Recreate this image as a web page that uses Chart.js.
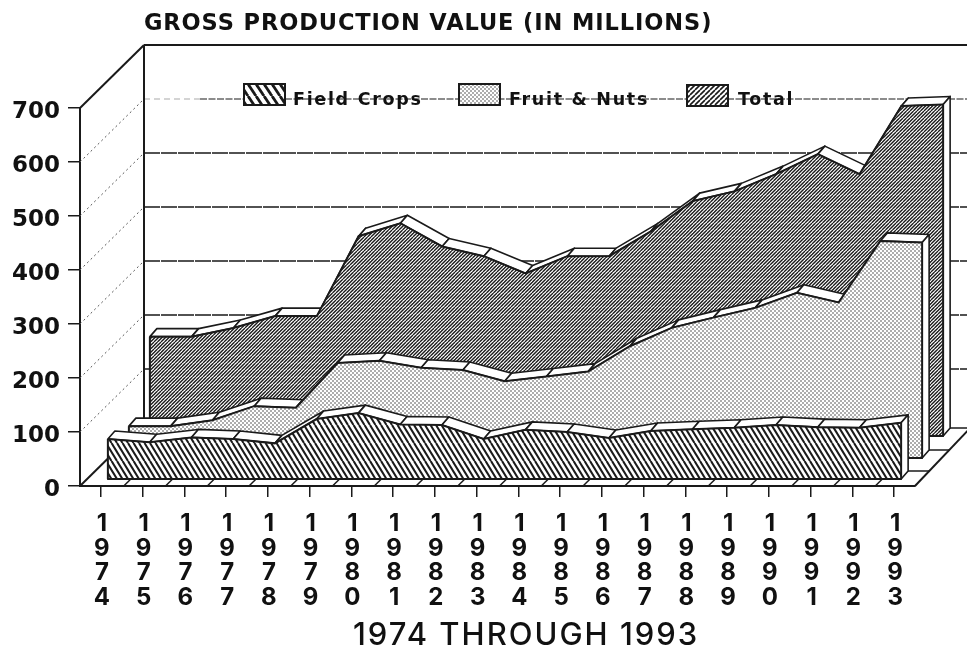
<!DOCTYPE html>
<html>
<head>
<meta charset="utf-8">
<style>
  html, body { margin: 0; padding: 0; background: #fff; overflow: hidden; }
  canvas { display: block; }
</style>
<script src="https://cdn.jsdelivr.net/npm/chart.js@4"></script>
</head>
<body>
<canvas id="chart" width="967" height="652"></canvas>
<script>
const years = ['1974', '1975', '1976', '1977', '1978', '1979', '1980', '1981', '1982', '1983',
               '1984', '1985', '1986', '1987', '1988', '1989', '1990', '1991', '1992', '1993'];
const fieldCrops = [74, 68, 77, 74, 66, 111, 122, 101, 100, 74, 91, 87, 76, 89, 92, 95, 100, 96, 95, 104];
const fruitNuts = [59, 59, 70, 96, 93, 176, 180, 167, 163, 142, 151, 160, 207, 241, 260, 278, 306, 288, 402, 399];
const total = [184, 184, 200, 222, 222, 370, 394, 351, 333, 301, 333, 333, 379, 435, 453, 485, 522, 485, 611, 614];
const yTicks = [0, 100, 200, 300, 400, 500, 600, 700];

const titleText = 'GROSS PRODUCTION VALUE (IN MILLIONS)';
const xTitleText = '1974 THROUGH 1993';
const legendNames = ['Field Crops', 'Fruit & Nuts', 'Total'];

// how far each layer sits behind the front plane, and the thickness of its top
const layerDepth = [{ x: 7, y: -7 }, { x: 28, y: -28 }, { x: 49, y: -50 }];
const layerTop = { x: 7, y: -8 };
const wallDepth = { x: 64, y: -63 };
const INK = '#1a1a1a';

function hatch(w, h, n, lw, flip) {
    const tile = document.createElement('canvas');
    tile.width = w;
    tile.height = h;
    const c = tile.getContext('2d');
    c.fillStyle = '#fff';
    c.fillRect(0, 0, w, h);
    if (flip) {
        c.translate(w, 0);
        c.scale(-1, 1);
    }
    c.strokeStyle = INK;
    c.lineWidth = lw;
    for (let k = -2 * n; k <= 2 * n; k++) {
        const off = k * w / n;
        c.beginPath();
        c.moveTo(off, 0);
        c.lineTo(off + w, h);
        c.stroke();
    }
    return c.createPattern(tile, 'repeat');
}

function dots() {
    const tile = document.createElement('canvas');
    tile.width = 4;
    tile.height = 4;
    const c = tile.getContext('2d');
    c.fillStyle = '#fff';
    c.fillRect(0, 0, 4, 4);
    c.fillStyle = '#444';
    for (const [x, y] of [[1, 1], [3, 3]]) {
        c.beginPath();
        c.arc(x, y, 0.8, 0, Math.PI * 2);
        c.fill();
    }
    return c.createPattern(tile, 'repeat');
}

const ctx = document.getElementById('chart').getContext('2d');
const fieldFill = hatch(11, 18, 2, 2, false);
const fruitFill = dots();
const totalFill = hatch(7, 7, 2, 1.35, true);
const legendFills = [hatch(8, 12, 1, 2.8, false), dots(), hatch(5, 5, 1, 1.6, true)];

function line(c, x1, y1, x2, y2) {
    c.beginPath();
    c.moveTo(x1, y1);
    c.lineTo(x2, y2);
    c.stroke();
}

// walls and floor behind the layers
const roomPlugin = {
    id: 'room',
    beforeDatasetsDraw(chart) {
        const c = chart.ctx;
        const { y: ys } = chart.scales;
        const x0 = chart.chartArea.left;
        const x1 = chart.chartArea.right;
        const yBase = ys.getPixelForValue(0);
        const yTop = ys.getPixelForValue(700);
        c.save();

        // left wall dotted lines
        c.strokeStyle = '#555';
        c.lineWidth = 1;
        c.setLineDash([2, 3]);
        for (const v of yTicks.slice(1, 7)) {
            const y = ys.getPixelForValue(v);
            line(c, x0, y, x0 + wallDepth.x, y + wallDepth.y);
        }

        // back wall grid, the 600 line starts faint on the left
        c.strokeStyle = INK;
        c.lineWidth = 1.4;
        c.setLineDash([16, 1]);
        for (const v of yTicks.slice(1, 6)) {
            const y = ys.getPixelForValue(v) + wallDepth.y;
            line(c, x0 + wallDepth.x, y, 967, y);
        }
        const y600 = ys.getPixelForValue(600) + wallDepth.y;
        c.lineWidth = 1.1;
        c.setLineDash([7, 1.5]);
        line(c, 200, y600, 967, y600);
        c.strokeStyle = '#aaa';
        c.setLineDash([6, 4]);
        line(c, x0 + wallDepth.x, y600, 200, y600);

        // frame
        c.setLineDash([]);
        c.strokeStyle = INK;
        c.lineWidth = 2;
        line(c, x0, yTop, x0 + wallDepth.x, yTop + wallDepth.y);
        line(c, x0 + wallDepth.x, yTop + wallDepth.y, 967, yTop + wallDepth.y);
        line(c, x0 + wallDepth.x, yTop + wallDepth.y, x0 + wallDepth.x, yBase + wallDepth.y);
        line(c, x0, yBase, x0 + wallDepth.x, yBase + wallDepth.y);
        line(c, x1, yBase, x1 + wallDepth.x - 4, yBase + wallDepth.y);

        // floor lines
        c.lineWidth = 1.5;
        for (let k = 1; k < years.length; k++) {
            const bx = x0 + k * (x1 - x0) / years.length + 2;
            line(c, bx, yBase, bx + wallDepth.x, yBase + wallDepth.y);
        }
        for (const d of layerDepth) {
            const y = yBase + d.y + layerTop.y;
            const right = x1 + (yBase - y) * (wallDepth.x - 4) / -wallDepth.y;
            line(c, 860, y, right, y);
        }
        c.restore();
    }
};

// shifts a layer back into the room, its top surface is drawn first
const layerPlugin = {
    id: 'layerDepth',
    beforeDatasetDraw(chart, args) {
        const c = chart.ctx;
        const d = layerDepth[args.index];
        const pts = args.meta.data;
        const yBase = chart.scales.y.getPixelForValue(0);
        const last = pts[pts.length - 1];
        c.save();
        c.translate(d.x, d.y);
        c.fillStyle = '#fff';
        c.strokeStyle = INK;
        c.lineWidth = 1.6;
        c.lineJoin = 'round';
        for (let i = 0; i < pts.length - 1; i++) {
            c.beginPath();
            c.moveTo(pts[i].x, pts[i].y);
            c.lineTo(pts[i + 1].x, pts[i + 1].y);
            c.lineTo(pts[i + 1].x + layerTop.x, pts[i + 1].y + layerTop.y);
            c.lineTo(pts[i].x + layerTop.x, pts[i].y + layerTop.y);
            c.closePath();
            c.fill();
            c.stroke();
        }
        c.beginPath();
        c.moveTo(last.x, last.y);
        c.lineTo(last.x + layerTop.x, last.y + layerTop.y);
        c.lineTo(last.x + layerTop.x, yBase + layerTop.y);
        c.lineTo(last.x, yBase);
        c.closePath();
        c.fill();
        c.stroke();
    },
    afterDatasetDraw(chart, args) {
        const c = chart.ctx;
        const pts = args.meta.data;
        const yBase = chart.scales.y.getPixelForValue(0);
        const first = pts[0];
        const last = pts[pts.length - 1];
        c.strokeStyle = INK;
        c.lineWidth = 2;
        c.beginPath();
        c.moveTo(first.x, first.y);
        c.lineTo(first.x, yBase);
        c.lineTo(last.x, yBase);
        c.lineTo(last.x, last.y);
        c.stroke();
        c.restore();
    }
};

// title, x title and the legend strip
const textPlugin = {
    id: 'texts',
    afterDraw(chart) {
        const c = chart.ctx;
        c.save();
        c.fillStyle = '#111';
        c.textAlign = 'left';
        c.textBaseline = 'alphabetic';

        c.font = 'bold 22.5px "DejaVu Sans"';
        c.letterSpacing = '0.9px';
        c.fillText(titleText, 144, 30);

        c.font = '500 31px "Inter"';
        c.letterSpacing = '2px';
        c.fillText(xTitleText, 353, 645);

        const boxes = [{ x: 244, y: 84 }, { x: 459, y: 84 }, { x: 687, y: 85 }];
        const labelX = [293, 509, 738];
        c.font = 'bold 17.5px "DejaVu Sans"';
        c.letterSpacing = '1.7px';
        legendNames.forEach((name, i) => {
            c.fillStyle = legendFills[i];
            c.fillRect(boxes[i].x, boxes[i].y, 41, 21);
            c.strokeStyle = INK;
            c.lineWidth = 2;
            c.strokeRect(boxes[i].x, boxes[i].y, 41, 21);
            c.fillStyle = '#111';
            c.fillText(name, labelX[i], 105);
        });
        c.restore();
    }
};

// the depth shift has to be on the canvas before the filler paints
const filler = Chart.registry.getPlugin('filler');
Chart.unregister(filler);
Chart.register(layerPlugin);
Chart.register(filler);

function layer(label, values, fill) {
    return {
        label: label,
        data: values,
        fill: 'origin',
        backgroundColor: fill,
        borderColor: INK,
        borderWidth: 2,
        pointRadius: 0,
        tension: 0
    };
}

new Chart(ctx, {
    type: 'line',
    data: {
        labels: years,
        datasets: [
            layer(legendNames[0], fieldCrops, fieldFill),
            layer(legendNames[1], fruitNuts, fruitFill),
            layer(legendNames[2], total, totalFill)
        ]
    },
    options: {
        responsive: false,
        animation: false,
        devicePixelRatio: 1,
        layout: { padding: { top: 108, right: 52, left: 0, bottom: 0 } },
        plugins: {
            legend: { display: false },
            tooltip: { enabled: false }
        },
        scales: {
            x: {
                type: 'category',
                offset: true,
                afterFit: (scale) => { scale.height = 166; },
                grid: { offset: false, drawOnChartArea: false, tickLength: 11, color: INK, lineWidth: 1.5 },
                border: { color: INK, width: 2 },
                ticks: {
                    autoSkip: false,
                    maxRotation: 0,
                    padding: 15,
                    labelOffset: 1,
                    color: '#111',
                    font: { family: '"Inter"', size: 24, weight: '700', lineHeight: 1.02 },
                    callback: function (value) {
                        return this.getLabelForValue(value).split('');
                    }
                }
            },
            y: {
                min: 0,
                max: 700,
                afterFit: (scale) => { scale.width = 80; },
                grid: { drawOnChartArea: false, tickLength: 12, color: INK, lineWidth: 1.5 },
                border: { color: INK, width: 2 },
                ticks: {
                    stepSize: 100,
                    padding: 8,
                    labelOffset: 4,
                    color: '#111',
                    font: { family: '"DejaVu Sans"', size: 23, weight: 'bold' }
                }
            }
        }
    },
    plugins: [roomPlugin, textPlugin]
});
</script>
</body>
</html>
